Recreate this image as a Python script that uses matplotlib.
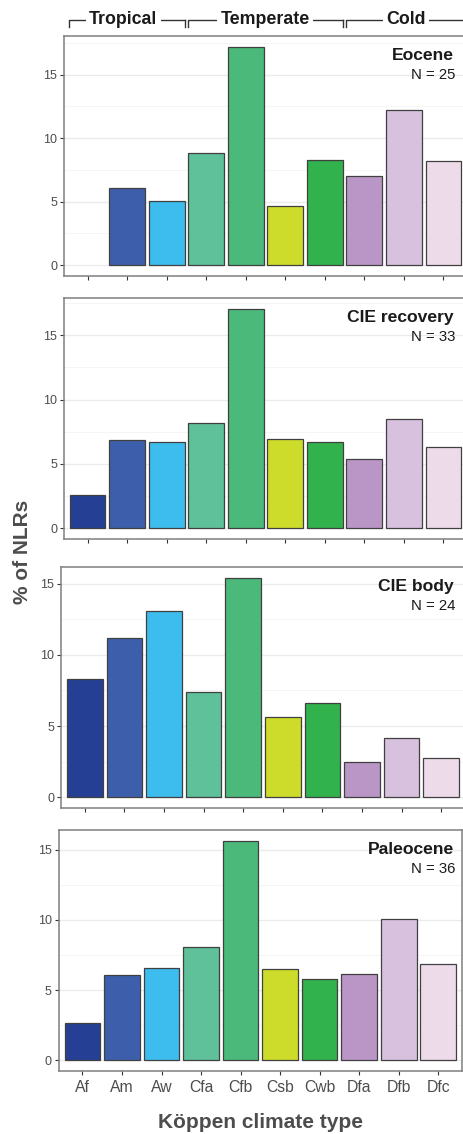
import numpy as np
import matplotlib
matplotlib.use("Agg")
import matplotlib.pyplot as plt
import matplotlib.transforms as mtransforms
from matplotlib.ticker import MultipleLocator

plt.rcParams['font.family'] = ['Liberation Sans', 'DejaVu Sans']

climates = ['Af', 'Am', 'Aw', 'Cfa', 'Cfb', 'Csb', 'Cwb', 'Dfa', 'Dfb', 'Dfc']
colors = ['#253f94', '#3d5fab', '#3dbded', '#5ec19a', '#4ab97a',
          '#cddc2b', '#31b24c', '#b996c6', '#d7c1de', '#eedbea']

periods = ['Eocene', 'CIE recovery', 'CIE body', 'Paleocene']
n_sites = [25, 33, 24, 36]

eocene = [0.0, 6.09, 5.04, 8.81, 17.19, 4.65, 8.31, 6.98, 12.18, 8.20]
cie_recovery = [2.59, 6.87, 6.71, 8.16, 17.05, 6.92, 6.71, 5.34, 8.45, 6.32]
cie_body = [8.32, 11.22, 13.07, 7.41, 15.42, 5.64, 6.65, 2.49, 4.14, 2.75]
paleocene = [2.67, 6.07, 6.55, 8.10, 15.64, 6.50, 5.79, 6.17, 10.05, 6.88]
values = [eocene, cie_recovery, cie_body, paleocene]

groups = ['Tropical', 'Temperate', 'Cold']
group_span = [(0, 2), (3, 6), (7, 9)]
group_text_x = [0.9, 4.49, 8.06]

W, H = 463, 1134
fig = plt.figure(figsize=(W / 100, H / 100), dpi=100)

# panel boxes in pixels: left, right, top, bottom
boxes = [(64, 467, 36, 276), (64, 467, 298, 539),
         (61, 465, 567, 808), (58.7, 462, 830, 1071)]

axes = []
x = np.arange(len(climates))
for i, (vals, (l, r, t, b)) in enumerate(zip(values, boxes)):
    ax = fig.add_axes([l / W, 1 - b / H, (r - l) / W, (b - t) / H])
    vals = np.array(vals)
    keep = vals > 0
    ax.bar(x[keep], vals[keep], width=0.9, color=np.array(colors)[keep],
           edgecolor='#404040', linewidth=0.9, zorder=3)
    top = vals.max()
    ax.set_ylim(-0.05 * top, 1.05 * top)
    ax.set_xlim(-0.6, len(climates) - 0.4)
    ax.yaxis.set_major_locator(MultipleLocator(5))
    ax.yaxis.set_minor_locator(MultipleLocator(2.5))
    ax.grid(which='major', axis='y', color='#ebebeb', linewidth=1.0, zorder=0)
    ax.grid(which='minor', axis='y', color='#f4f4f4', linewidth=0.6, zorder=0)
    ax.set_axisbelow(True)
    ax.tick_params(axis='y', which='minor', length=0)
    ax.tick_params(axis='both', which='major', length=3, width=0.8,
                   color='#333333', labelcolor='#4d4d4d')
    ax.tick_params(axis='y', labelsize=9, pad=2)
    ax.set_xticks(x)
    if i == len(values) - 1:
        ax.set_xticklabels(climates, fontsize=11.3)
    else:
        ax.set_xticklabels([])
    for s in ax.spines.values():
        s.set_color('#7f7f7f')
        s.set_linewidth(1.1)
    fig.text(454 / W, 1 - (t + 24) / H, periods[i], ha='right', va='baseline',
             fontsize=12.6, fontweight='bold', color='#1a1a1a')
    fig.text(455 / W, 1 - (t + 43) / H, 'N = %d' % n_sites[i], ha='right',
             va='baseline', fontsize=10.7, color='#1a1a1a')
    axes.append(ax)

# climate group brackets above the top panel
ax1 = axes[0]
trans = mtransforms.blended_transform_factory(ax1.transData, fig.transFigure)
y_line = 1 - 19.5 / H
y_tick = 1 - 27 / H
for name, (a, b), tx in zip(groups, group_span, group_text_x):
    x0 = a - 0.47
    x1 = b + 0.45 if name != 'Cold' else len(climates) + 0.5
    ax1.plot([x0, x0, x1], [y_tick, y_line, y_line], transform=trans,
             color='#333333', linewidth=1.0, clip_on=False)
    if name != 'Cold':
        ax1.plot([x1, x1], [y_line, y_tick], transform=trans,
                 color='#333333', linewidth=1.0, clip_on=False)
    ax1.text(tx, 1 - 24 / H, name, transform=trans, ha='center', va='baseline',
             fontsize=12.8, fontweight='bold', color='#1a1a1a',
             bbox=dict(boxstyle='square,pad=0.2', fc='white', ec='none'))

fig.text(23 / W, 1 - 552 / H, '% of NLRs', rotation=90, ha='center', va='center',
         fontsize=15, fontweight='bold', color='#4d4d4d')
fig.text(260 / W, 1 - 1123 / H, 'Köppen climate type', ha='center', va='center',
         fontsize=15, fontweight='bold', color='#4d4d4d')

fig.savefig('out.png', dpi=100)
